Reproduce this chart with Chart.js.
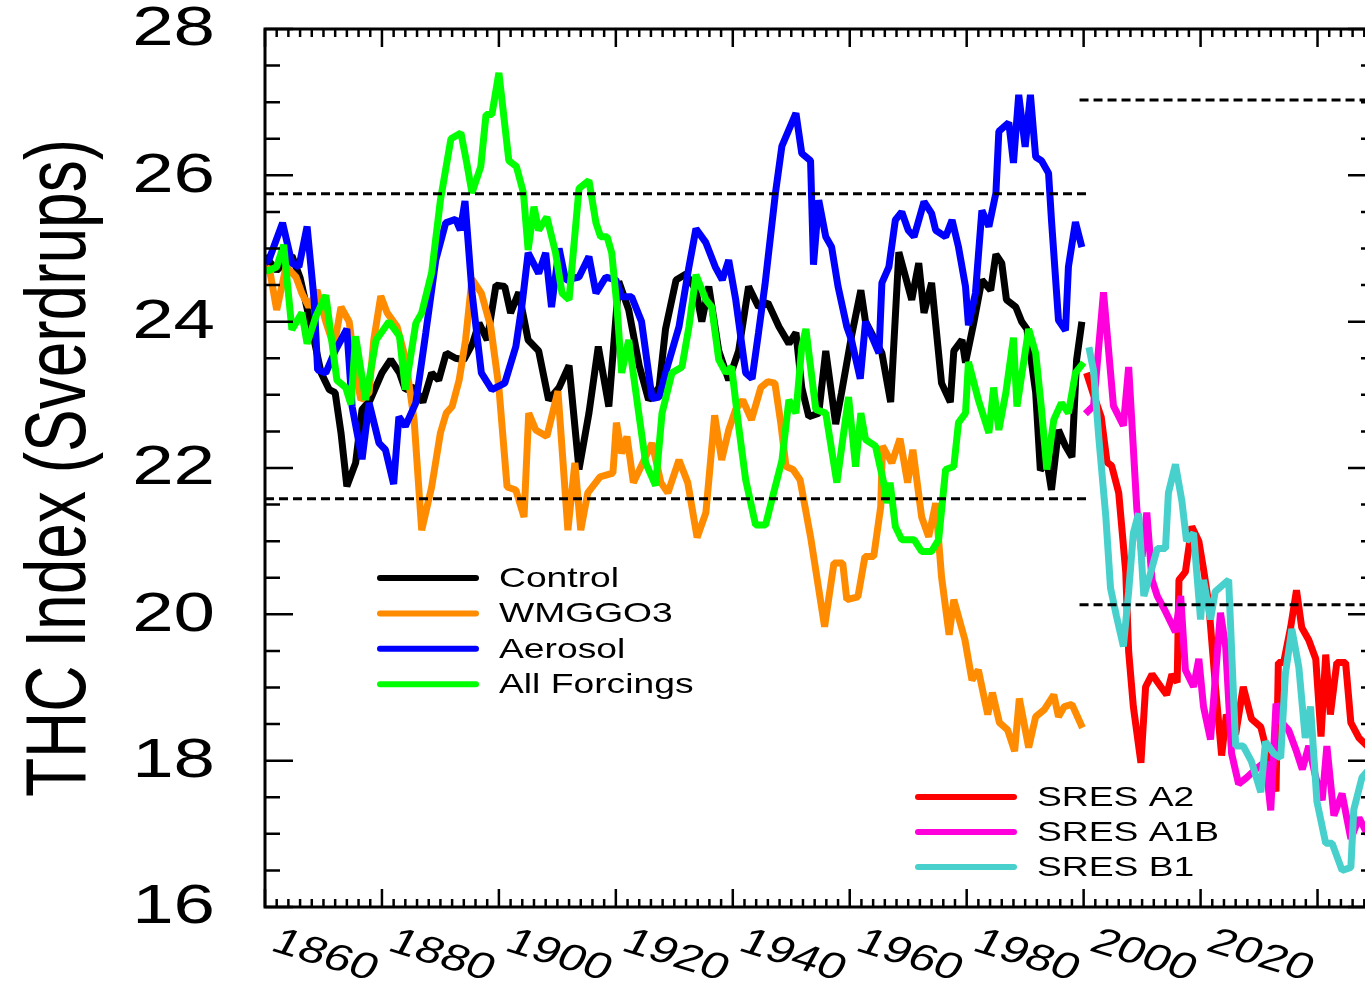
<!DOCTYPE html>
<html>
<head>
<meta charset="utf-8">
<title>THC Index</title>
<script src="https://cdn.jsdelivr.net/npm/chart.js@4.4.1/dist/chart.umd.min.js"></script>
<style>
  html, body { margin: 0; padding: 0; overflow: hidden; background: #ffffff; }
  #wrap { position: relative; width: 1400px; height: 987px; }
</style>
</head>
<body>
<div id="wrap"><canvas id="thc"></canvas></div>
<script>
// ---- Overturning strength (Sv) by model year ----
const controlYears = [1860,1862,1864.6,1866,1868,1869.6,1871,1872,1873,1874,1875.5,1876.6,1878,1880,1881.5,1883,1884,1885.5,1887,1888.5,1889.7,1891,1892.6,1894,1895.5,1896.6,1898,1899.5,1901,1902,1903.4,1905,1906.8,1908.5,1910.3,1912,1913.7,1915.4,1917,1918.8,1920.5,1922.2,1924,1925.6,1927.4,1928.5,1930.3,1932,1933.7,1934.7,1935.9,1937.6,1939.3,1941,1942.7,1944.4,1946,1947.9,1949.6,1950.8,1951.8,1953,1954.7,1955.9,1957.6,1958.6,1960.3,1961.9,1962.7,1965.5,1967,1968.4,1970.6,1971.8,1972.7,1974,1975.7,1977.2,1977.8,1979.2,1979.8,1981.2,1982.6,1984.1,1985,1986,1986.8,1988.4,1989.4,1990.3,1991.8,1992.6,1993.7,1994.5,1995.7,1996.9,1998,1998.8,1999.7];
const controlVals  = [24.9,24.7,24.9,24.6,23.9,23.3,23.07,23.03,22.48,21.75,22.07,22.8,22.93,23.3,23.48,23.3,23.07,23.1,22.9,23.3,23.2,23.57,23.5,23.48,23.7,23.98,23.75,24.5,24.48,24.12,24.4,23.75,23.6,22.93,23.1,23.4,21.98,22.75,23.66,22.84,24.55,24.16,23.4,22.93,23.1,23.9,24.57,24.65,24.43,24.0,24.48,23.6,23.2,23.6,24.48,24.2,24.26,23.93,23.7,23.85,23.1,22.7,22.75,23.6,22.6,23.03,23.8,24.43,24.0,23.57,22.9,24.95,24.3,24.8,24.12,24.53,23.16,22.9,23.6,23.75,23.44,23.98,24.57,24.43,24.92,24.8,24.3,24.2,24.0,23.9,23.03,21.97,22.1,21.7,22.52,22.3,22.15,23.48,24.0];

const ghgYears = [1860,1860.7,1862,1863.6,1865.3,1866.3,1867.5,1868.9,1870.4,1871.8,1873,1874.4,1875.5,1876.4,1877.8,1878.6,1879.8,1880.9,1882.6,1884,1885.5,1886.8,1888.5,1890,1891,1892,1893.2,1894.3,1895.4,1897,1898.6,1900,1901.4,1902.9,1904.3,1905.1,1906.3,1908.2,1910.1,1911.8,1913,1914,1915.2,1917.3,1919.5,1920.1,1921,1921.9,1923,1924.6,1926.2,1927.7,1928.9,1930.8,1932.3,1933.9,1935.4,1936.9,1938.1,1939.3,1940.5,1941.7,1943.2,1944.8,1946,1947.2,1948.2,1949.1,1950.3,1951.5,1953.3,1955.7,1957.3,1958.8,1959.5,1961.4,1962.6,1964.1,1965.3,1965.6,1967.2,1968.6,1969.9,1970.8,1972.3,1973.5,1974.7,1975.7,1977,1977.8,1979.7,1980.9,1982,1983.6,1984.4,1985.6,1987,1988.2,1989,1990.6,1991.8,1993.3,1994.9,1995.7,1996.7,1998,1999.8];
const ghgVals  = [24.7,24.75,24.16,24.75,24.61,24.39,24.2,24.43,24.0,23.66,24.2,24.0,23.3,22.93,23.03,23.75,24.35,24.12,23.93,23.5,22.66,21.15,21.74,22.48,22.75,22.84,23.2,23.75,24.58,24.39,23.93,23.1,21.74,21.7,21.33,22.75,22.52,22.43,23.05,21.15,22.07,21.15,21.66,21.88,21.93,22.62,22.2,22.43,21.8,22.07,22.34,21.8,21.66,22.11,21.8,21.05,21.39,22.72,22.11,22.52,22.8,22.93,22.66,23.1,23.18,23.16,22.62,22.02,21.98,21.84,21.06,19.83,20.7,20.7,20.2,20.24,20.79,20.79,21.47,22.3,22.07,22.4,21.8,22.25,21.33,21.06,21.52,20.51,19.72,20.2,19.65,19.1,19.24,18.63,18.93,18.52,18.42,18.13,18.85,18.18,18.6,18.7,18.9,18.6,18.74,18.77,18.45];

const aerosolYears = [1860,1860.7,1863,1864.6,1865.8,1867.2,1868.4,1869,1870.4,1872,1874,1874.9,1876.6,1877.8,1879.5,1880.6,1882,1882.9,1884,1885.8,1887.5,1889.2,1890.9,1892.6,1893.4,1894.2,1895.4,1897,1898.8,1901,1902.9,1904,1905,1906.8,1908,1909,1910.3,1911.4,1913.7,1915.4,1916.6,1918.3,1920,1921,1922.7,1924.4,1926.2,1927.4,1929,1930.8,1932.5,1933.7,1935.4,1937,1938.2,1939.3,1940.5,1942.2,1943.3,1944.4,1945.5,1947.3,1948.4,1950.8,1951.8,1953.3,1953.8,1954.7,1955.9,1956.9,1958,1959.5,1960.3,1961.8,1962.7,1965,1965.5,1966.7,1967.8,1968.9,1970,1971,1972.7,1974,1974.7,1976.4,1977.5,1978.6,1979.8,1980.3,1981.5,1982.6,1983.8,1985,1985.5,1987.2,1988,1988.9,1990,1990.9,1991.8,1992.8,1994,1994.5,1995.7,1996.9,1997.4,1998.6,1999.7];
const aerosolVals  = [24.8,24.85,25.35,24.8,24.75,25.3,24.3,23.34,23.3,23.6,23.9,22.84,22.12,22.89,22.34,22.25,21.78,22.7,22.57,22.89,23.85,24.84,25.35,25.4,25.25,25.65,24.4,23.3,23.07,23.16,23.66,24.26,24.94,24.66,24.94,24.2,25.0,24.57,24.61,24.89,24.39,24.61,24.57,24.34,24.34,24.0,22.95,22.97,23.44,23.93,24.75,25.27,25.08,24.75,24.57,24.84,24.3,23.3,23.22,23.85,24.5,25.76,26.4,26.85,26.3,26.2,24.78,25.66,25.16,25.02,24.48,23.93,23.75,23.22,24.0,23.57,24.53,24.75,25.39,25.5,25.25,25.16,25.64,25.48,25.25,25.16,25.39,25.02,24.48,23.95,24.39,25.52,25.3,25.76,26.6,26.72,26.17,27.1,26.39,27.1,26.25,26.2,26.03,25.39,24.02,23.88,24.75,25.36,25.02];

const allYears = [1860,1860.7,1862,1863.2,1864.6,1866.3,1867.2,1868.7,1870.4,1872.3,1873.8,1874.7,1875.5,1877.2,1879,1881.2,1883,1884,1885.8,1886.8,1888.5,1890,1891.8,1893.5,1894.5,1895.4,1896.9,1897.8,1898.8,1900,1901.7,1903,1904.2,1905,1906,1906.8,1908.2,1909.7,1910.8,1912,1913.7,1915.4,1916.6,1917.4,1918.5,1919.3,1920.2,1921,1922.2,1924,1925.1,1926.8,1927.9,1929.6,1931.3,1932.5,1933.7,1935.4,1936.4,1937.6,1938.8,1939.8,1941,1942.2,1943.9,1945.6,1946.7,1948.4,1949.6,1950.8,1951.8,1952.5,1954.2,1955.9,1957.8,1959.8,1961,1961.9,1962.7,1964.4,1965.8,1966.3,1966.9,1967.8,1968.9,1971,1972.3,1974,1975.2,1976.4,1977.8,1978.6,1979.8,1980.3,1982,1983.8,1984.6,1985.5,1986.7,1988,1988.6,1990.6,1991.8,1992.8,1993.7,1994.9,1996.2,1997.4,1998.6,2000];
const allVals  = [24.7,24.7,24.75,25.05,23.89,24.12,23.7,24.07,24.36,23.2,23.1,22.87,23.8,22.93,23.75,24.0,23.8,23.07,23.98,24.12,24.67,25.66,26.5,26.58,26.17,25.76,26.12,26.83,26.83,27.4,26.2,26.12,25.76,24.98,25.57,25.25,25.43,24.94,24.39,24.3,25.82,25.93,25.35,25.16,25.16,24.94,24.2,23.3,23.75,22.7,22.07,21.76,22.75,23.3,23.38,23.93,24.64,24.3,24.2,23.48,23.3,23.38,22.57,21.84,21.22,21.22,21.57,22.1,22.93,22.75,23.66,23.9,22.8,22.75,21.8,22.97,22.02,22.75,22.39,22.3,21.8,21.52,21.8,21.2,21.02,21.02,20.86,20.86,21.02,21.98,22.02,22.62,22.75,23.45,22.93,22.48,23.1,22.52,23.03,23.78,22.84,23.9,23.57,22.8,21.98,22.66,22.89,22.75,23.3,23.44];

const a2Years = [2000.5,2001.7,2003,2004,2004.8,2006,2007.2,2007.7,2008.5,2009.8,2010.6,2011.7,2013.2,2014.2,2015.1,2016,2016.3,2017.4,2018.5,2019.7,2020.5,2021.4,2022.6,2023.6,2024.4,2026,2027.3,2028.7,2030.3,2031.6,2032.9,2033.3,2034.2,2035.4,2036.4,2037.3,2038.5,2039.7,2040.6,2041.4,2042.2,2043.3,2044.8,2045.7,2047.1,2048.5];
const a2Vals  = [23.3,23.0,22.7,22.08,22.03,21.66,20.58,19.49,18.74,17.97,19.01,19.18,19.01,18.9,19.18,19.07,20.47,20.58,21.2,21.0,20.62,20.14,18.96,18.07,18.63,18.36,19.01,18.57,18.46,18.04,17.58,19.34,19.34,19.82,20.33,19.82,19.65,19.39,18.33,19.45,18.63,19.34,19.34,18.52,18.31,18.2];

const a1bYears = [2000.3,2001.7,2003.4,2005.1,2006.8,2007.7,2009.1,2010,2010.8,2011.7,2012.6,2014,2015.7,2016.6,2017.4,2018.8,2019.7,2020.5,2021.7,2023.4,2024.3,2025.3,2026.5,2027.9,2029.4,2031.1,2032,2032.9,2033.9,2035.1,2036.3,2037.4,2038.5,2039.7,2040.8,2041.6,2042.8,2044.2,2045.7,2047.1,2048.5];
const a1bVals  = [22.74,22.85,24.4,22.85,22.58,23.38,21.44,20.79,21.39,20.47,20.25,20.04,19.76,20.25,19.24,19.01,19.39,18.74,18.29,20.02,19.55,18.1,17.68,17.77,17.88,17.99,17.32,18.78,18.52,18.41,18.15,17.88,18.2,17.77,17.46,18.2,17.25,17.55,16.93,17.22,17.0];

const b1Years = [2000.9,2001.7,2002.6,2003.8,2004.6,2005.6,2006.8,2007.7,2008.5,2009.4,2010.3,2011.5,2012.6,2014,2014.5,2015.7,2016.8,2017.6,2018.8,2020,2020.5,2021.7,2022.5,2024.8,2026,2027.3,2028.7,2030.3,2031.1,2032.5,2033.7,2034.5,2035.6,2036.8,2037.9,2038.8,2039.9,2041.4,2042.5,2044.2,2045.7,2046.2,2047.6,2049];
const b1Vals  = [23.65,23.33,22.41,21.33,20.36,19.98,19.56,20.31,21.11,21.38,20.25,20.58,20.9,20.9,21.66,22.05,21.55,21.0,21.11,19.93,20.47,19.93,20.31,20.47,18.2,18.2,17.99,17.57,18.26,18.1,18.04,19.18,19.8,19.28,18.31,18.74,17.44,16.87,16.87,16.5,16.54,17.33,17.77,17.9];

// ---- Variability bands (dashed) ----
const histBandYears = [1860, 2000.5];
const histBandLevels = [25.75, 21.58];
const projBandYears = [1999.3, 2050];
const projBandLevels = [27.03, 20.13];

// ---- Axes ----
const xRange = [1860, 2050];
const yRange = [16, 28];
const xTickYears = [1860, 1880, 1900, 1920, 1940, 1960, 1980, 2000, 2020];
const yTickValues = [16, 18, 20, 22, 24, 26, 28];
const yTitle = 'THC Index (Sverdrups)';

const FONT = '"Liberation Sans", Arial, Helvetica, sans-serif';
const WIDE = 1.33;

function pairs(xs, ys) { return xs.map((x, i) => ({ x: x, y: ys[i] })); }

function series(label, xs, ys, color, order, group) {
  return {
    label: label, data: pairs(xs, ys), borderColor: color, backgroundColor: color,
    borderWidth: 7, pointRadius: 0, tension: 0, fill: false, order: order,
    borderJoinStyle: 'bevel', legendGroup: group
  };
}

function band(xs, level) {
  return {
    label: '', data: [{ x: xs[0], y: level }, { x: xs[1], y: level }],
    borderColor: '#000000', borderWidth: 3, borderDash: [9, 5],
    pointRadius: 0, fill: false, order: 1
  };
}

function wideText(ctx, txt, x, y, size, align, baseline, angle) {
  ctx.save();
  ctx.translate(x, y);
  ctx.scale(WIDE, 1);
  if (angle) ctx.rotate(angle);
  ctx.font = size + 'px ' + FONT;
  ctx.textAlign = align;
  ctx.textBaseline = baseline;
  ctx.fillStyle = '#000000';
  ctx.fillText(txt, 0, 0);
  ctx.restore();
}

// Frame with inward ticks, axis labels and the two key boxes
const framePlugin = {
  id: 'thcFrame',
  afterDatasetsDraw(chart) {
    const { ctx, chartArea: a, scales } = chart;
    const xs = scales.x, ys = scales.y;
    ctx.save();
    ctx.strokeStyle = '#000000';
    ctx.lineCap = 'butt';
    ctx.lineWidth = 2.5;
    ctx.beginPath();
    for (let yr = xRange[0]; yr <= xRange[1]; yr += 2) {
      const px = xs.getPixelForValue(yr);
      const len = (yr - xRange[0]) % 20 === 0 ? 18 : 8;
      ctx.moveTo(px, a.bottom); ctx.lineTo(px, a.bottom - len);
      ctx.moveTo(px, a.top); ctx.lineTo(px, a.top + len);
    }
    for (let i = 0; i <= (yRange[1] - yRange[0]) * 2; i++) {
      const v = yRange[0] + i * 0.5;
      const py = ys.getPixelForValue(v);
      const len = (i % 4 === 0) ? 28 : 15;
      ctx.moveTo(a.left, py); ctx.lineTo(a.left + len, py);
      ctx.moveTo(a.right, py); ctx.lineTo(a.right - len, py);
    }
    ctx.stroke();
    ctx.lineWidth = 3;
    ctx.strokeRect(a.left, a.top, a.right - a.left, a.bottom - a.top);

    // key boxes
    const boxes = { hist: { x: 380, y: 578, step: 35.4 }, proj: { x: 918, y: 797, step: 35 } };
    const counts = { hist: 0, proj: 0 };
    chart.data.datasets.forEach(ds => {
      if (!ds.legendGroup) return;
      const b = boxes[ds.legendGroup];
      const ly = b.y + counts[ds.legendGroup] * b.step;
      counts[ds.legendGroup]++;
      ctx.strokeStyle = ds.borderColor;
      ctx.lineWidth = 6;
      ctx.lineCap = 'round';
      ctx.beginPath();
      ctx.moveTo(b.x, ly); ctx.lineTo(b.x + 96, ly);
      ctx.stroke();
      wideText(ctx, ds.label, b.x + 119, ly + 1, 28, 'left', 'middle');
    });
    ctx.restore();
  },
  afterDraw(chart) {
    const { ctx, chartArea: a, scales } = chart;
    yTickValues.forEach(v => {
      wideText(ctx, String(v), 215, scales.y.getPixelForValue(v) + 1, 56, 'right', 'middle');
    });
    xTickYears.forEach(yr => {
      wideText(ctx, String(yr), scales.x.getPixelForValue(yr) + 4, a.bottom + 43, 37, 'left', 'alphabetic', 22 * Math.PI / 180);
    });
    wideText(ctx, yTitle, 85, (a.top + a.bottom) / 2, 64, 'center', 'alphabetic', -Math.PI / 2);
  }
};

new Chart(document.getElementById('thc'), {
  type: 'line',
  data: {
    datasets: [
      band(histBandYears, histBandLevels[0]),
      band(histBandYears, histBandLevels[1]),
      band(projBandYears, projBandLevels[0]),
      band(projBandYears, projBandLevels[1]),
      series('Control', controlYears, controlVals, '#000000', 10, 'hist'),
      series('WMGGO3', ghgYears, ghgVals, '#ff8c00', 9, 'hist'),
      series('Aerosol', aerosolYears, aerosolVals, '#0000ff', 8, 'hist'),
      series('All Forcings', allYears, allVals, '#00ff00', 7, 'hist'),
      series('SRES A2', a2Years, a2Vals, '#ff0000', 6, 'proj'),
      series('SRES A1B', a1bYears, a1bVals, '#ff00dd', 5, 'proj'),
      series('SRES B1', b1Years, b1Vals, '#48d1cc', 4, 'proj')
    ]
  },
  options: {
    responsive: true,
    maintainAspectRatio: false,
    animation: false,
    events: [],
    layout: { padding: { left: 265, right: 24, top: 29, bottom: 80 } },
    plugins: { legend: { display: false }, tooltip: { enabled: false }, title: { display: false } },
    scales: {
      x: { type: 'linear', min: xRange[0], max: xRange[1], display: false },
      y: { type: 'linear', min: yRange[0], max: yRange[1], display: false }
    }
  },
  plugins: [framePlugin]
});
</script>
</body>
</html>
